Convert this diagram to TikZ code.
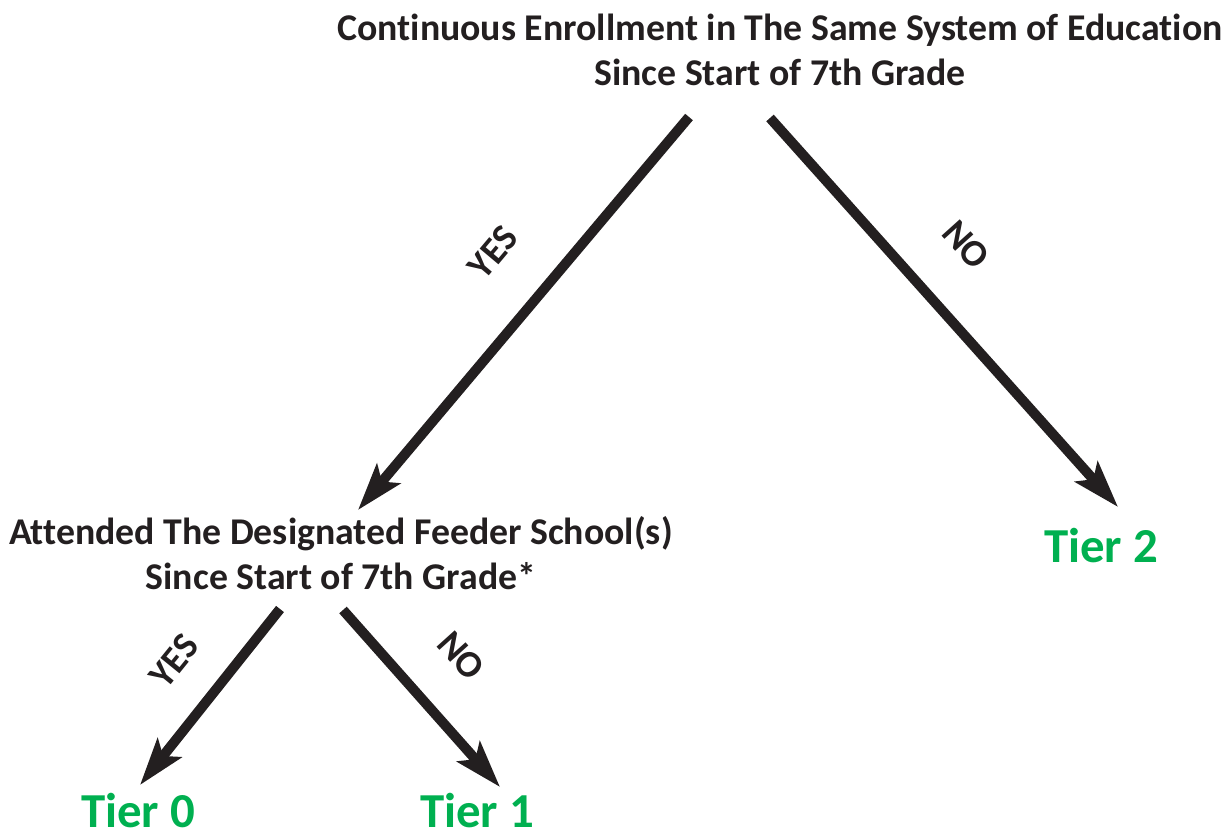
\documentclass[tikz,border=0pt]{standalone}
\usepackage{fontspec}
\setmainfont[Ligatures=NoCommon]{Carlito}
\usetikzlibrary{arrows.meta}
\definecolor{ink}{HTML}{231F20}
\definecolor{tiergreen}{HTML}{00B050}
\tikzset{
  arr/.style={ink, line width=0.2cm, -{Stealth[length=0.94cm,width=0.6cm,inset=0.2cm]}},
  txt/.style={ink, font=\fontsize{21.5}{25.5}\selectfont\bfseries, align=center, inner sep=0pt},
  lbl/.style={ink, font=\fontsize{21.5}{25.5}\selectfont\bfseries, inner sep=0pt},
  tier/.style={tiergreen, font=\fontsize{27.8}{33}\selectfont\bfseries, inner sep=0pt}
}
\begin{document}
\begin{tikzpicture}[x=0.02cm,y=-0.02cm]
\useasboundingbox (0,0) rectangle (1230,834);
\node[txt] (enroll) at (780,50) {Continuous Enrollment in The Same System of Education\\Since Start of 7th Grade};
\node[txt] (feeder) at (341,553) {Attended The Designated Feeder School(s)\\Since Start of 7th Grade*};
\node[tier] (tier2) at (1101,546) {Tier 2};
\node[tier] (tier0) at (138,811) {Tier 0};
\node[tier] (tier1) at (477,811) {Tier 1};

\coordinate (yesA) at (689,117); \coordinate (yesB) at (358,510);
\coordinate (noA) at (770,118);  \coordinate (noB) at (1118,507);
\coordinate (yesC) at (280,609); \coordinate (yesD) at (140,785);
\coordinate (noC) at (343,610);  \coordinate (noD) at (500,787);

\draw[arr] (yesA) -- (yesB);
\draw[arr] (noA) -- (noB);
\draw[arr] (yesC) -- (yesD);
\draw[arr] (noC) -- (noD);

\node[lbl, rotate=50] (yes1) at (493,252) {YES};
\node[lbl, rotate=-48] (no1) at (966,245) {NO};
\node[lbl, rotate=51] (yes2) at (174,661) {YES};
\node[lbl, rotate=-48] (no2) at (461,656) {NO};
\end{tikzpicture}
\end{document}
